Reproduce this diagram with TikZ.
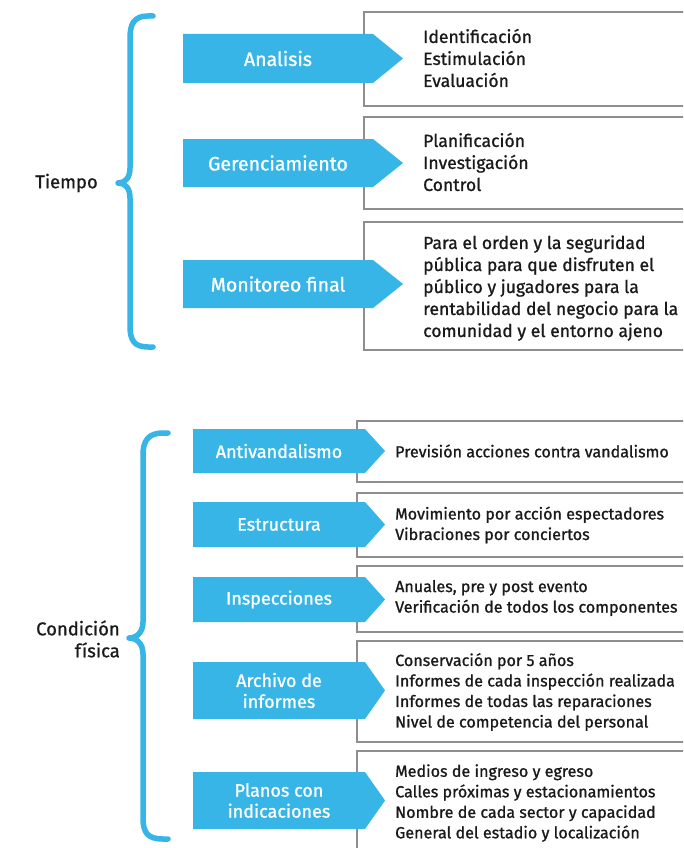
\documentclass[tikz,border=0pt]{standalone}
\usepackage{fontspec}
\setmainfont{Fira Sans}[FakeBold=1.0]
\newfontfamily\labfont{Fira Sans}[FakeBold=1.1]
\definecolor{cy}{HTML}{36B5E6}
\definecolor{bx}{HTML}{8E8E8E}
\definecolor{tx}{HTML}{1A1A1A}
\tikzset{
  brace/.style={draw=cy, line width=5.5pt, line cap=round, line join=round},
  panel/.style={draw=bx, line width=2pt, fill=white},
  labtop/.style={text=white, font=\labfont\fontsize{19.5}{22}\selectfont, align=center, inner sep=0pt},
  labbot/.style={text=white, font=\labfont\fontsize{18}{21}\selectfont, align=center, inner sep=0pt},
  bodytop/.style={text=tx, font=\fontsize{17.6}{22}\selectfont, align=left, anchor=west, inner sep=0pt},
  bodybot/.style={text=tx, font=\fontsize{16.1}{20.5}\selectfont, align=left, anchor=west, inner sep=0pt},
  side/.style={text=tx, font=\fontsize{18.5}{22}\selectfont, inner sep=0pt},
}
% name, x left, x body end, x tip, y top, y bottom, style, text
\newcommand\myarrow[8]{%
  \fill[cy] (#2,#5) -- (#3,#5) -- (#4,{(#5+#6)/2}) -- (#3,#6) -- (#2,#6) -- cycle;
  \node[#7] (#1) at ({(#2+#3)/2},{(#5+#6)/2}) {#8};}
\begin{document}
\begin{tikzpicture}[x=1pt,y=-1pt]
\useasboundingbox (0,0) rectangle (683,848);
\clip (0,0) rectangle (683,848);
\fill[white] (0,0) rectangle (683,848);

% ---------- top block ----------
\draw[panel] (364,12) rectangle (700,106);
\draw[panel] (364,117) rectangle (700,209);
\draw[panel] (364,222) rectangle (700,350);

\myarrow{a1}{183}{373}{403}{34}{83}{labtop}{Analisis}
\myarrow{a2}{183}{373}{403}{139}{187}{labtop}{Gerenciamiento}
\myarrow{a3}{183}{373}{403}{260}{308}{labtop}{Monitoreo final}

\node[bodytop] (t1) at (423,58) {Identificación\\Estimulación\\Evaluación};
\node[bodytop] (t2) at (423,162) {Planificación\\Investigación\\Control};
\node[bodytop] (t3) at (423,288) {Para el orden y la seguridad\\pública para que disfruten el\\público y jugadores para la\\rentabilidad del negocio para la\\comunidad y el entorno ajeno};

\draw[brace] (153,16) -- (148,16) .. controls (134,16) and (130,24) .. (130,38)
  -- (130,168) .. controls (130,178) and (125,183) .. (118,183)
  .. controls (125,183) and (130,188) .. (130,198)
  -- (130,326) .. controls (130,340) and (134,347) .. (148,347) -- (153,347);
\node[side, anchor=east] (tiempo) at (98,183) {Tiempo};

% ---------- bottom block ----------
\draw[panel] (357,421) rectangle (700,482);
\draw[panel] (357,493) rectangle (700,557);
\draw[panel] (357,566) rectangle (700,632);
\draw[panel] (357,641) rectangle (700,742);
\draw[panel] (357,751) rectangle (700,860);

\myarrow{b1}{193}{365}{385}{429}{473}{labbot}{Antivandalismo}
\myarrow{b2}{193}{365}{385}{502}{547}{labbot}{Estructura}
\myarrow{b3}{193}{365}{385}{577}{622}{labbot}{Inspecciones}
\myarrow{b4}{193}{365}{385}{662}{719}{labbot}{Archivo de\\informes}
\myarrow{b5}{193}{365}{385}{772}{829}{labbot}{Planos con\\indicaciones}

\node[bodybot] (s1) at (395,451) {Previsión acciones contra vandalismo};
\node[bodybot] (s2) at (395,525) {Movimiento por acción espectadores\\Vibraciones por conciertos};
\node[bodybot] (s3) at (395,598) {Anuales, pre y post evento\\Verificación de todos los componentes};
\node[bodybot] (s4) at (395,692) {Conservación por 5 años\\Informes de cada inspección realizada\\Informes de todas las reparaciones\\Nivel de competencia del personal};
\node[bodybot] (s5) at (395,803) {Medios de ingreso y egreso\\Calles próximas y estacionamientos\\Nombre de cada sector y capacidad\\General del estadio y localización};

\draw[brace] (168,433) -- (163,433) .. controls (148,433) and (143,441) .. (143,455)
  -- (143,622) .. controls (143,632) and (137,638) .. (129,638)
  .. controls (137,638) and (143,644) .. (143,654)
  -- (143,818) .. controls (143,833) and (148,839) .. (163,839) -- (168,839);
\node[side, anchor=east, align=right] (cond) at (120,639) {Condición\\física};
\end{tikzpicture}
\end{document}
